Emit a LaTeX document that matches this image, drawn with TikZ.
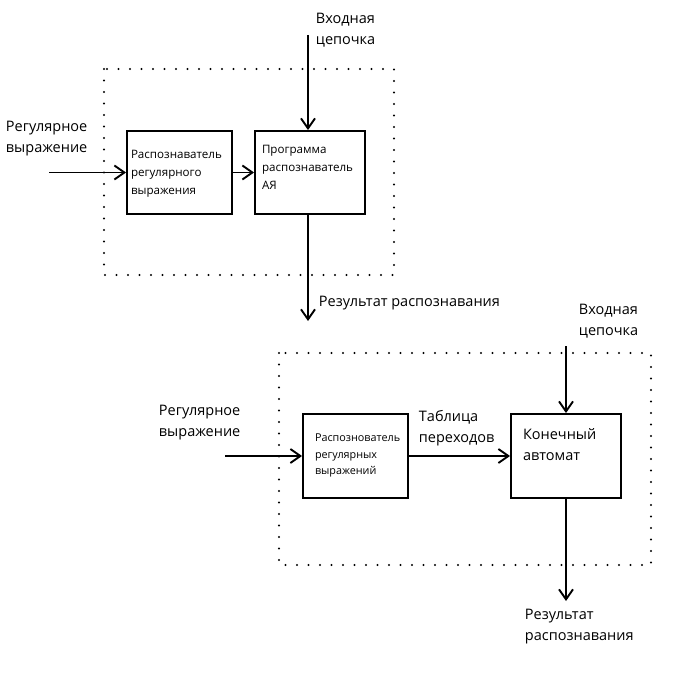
\documentclass[tikz,border=0pt]{standalone}
\usepackage{fontspec}
\setmainfont{Open Sans}
\usetikzlibrary{arrows.meta}
\usetikzlibrary{positioning}

\begin{document}
\begin{tikzpicture}[x=1pt,y=-1pt,>={Straight Barb[length=10pt,width=14pt]},
                    line width=1.9pt,
                    block/.style={draw,rectangle,inner sep=0pt},
                    intext/.style={anchor=north west,inner sep=0pt,align=left,
                                   font=\fontsize{11.6}{18}\selectfont},
                    lbl/.style={anchor=north west,inner sep=0pt,align=left,
                                font=\fontsize{14.5}{21}\selectfont},
                    dotbox/.style={line width=2.3pt,dash pattern=on 0pt off 11.5pt,
                                   line cap=round}]
  \useasboundingbox (0,0) rectangle (700,700);

  \draw[dotbox] (104,69) rectangle (394,275);
  \draw[dotbox] (279,353) rectangle (651,565);

  \node[block,minimum width=105pt,minimum height=83pt] (rec1) at (179.5,172.5) {};
  \node[block,minimum width=110pt,minimum height=83pt] (prog1) at (310,172.5) {};
  \node[block,minimum width=105pt,minimum height=84pt] (rec2) at (355.5,456) {};
  \node[block,minimum width=110pt,minimum height=84pt] (fsm) at (566,456) {};

  \node[intext] (rec1txt) at ([shift={(4,19)}]rec1.north west)
        {Распознаватель\\регулярного\\выражения};
  \node[intext] (prog1txt) at ([shift={(7,14)}]prog1.north west)
        {Программа\\распознаватель\\АЯ};
  \node[intext,font=\fontsize{10.8}{16.5}\selectfont] (rec2txt) at ([shift={(12,20)}]rec2.north west)
        {Распознователь\\регулярных\\выражений};
  \node[lbl] (fsmtxt) at ([shift={(12,14.5)}]fsm.north west) {Конечный\\автомат};

  \node[lbl] (regex1) at (5,120.5) {Регулярное\\выражение};
  \node[lbl] (input1) at (315,12.5) {Входная\\цепочка};
  \node[lbl] (result1) at (318,295.5) {Результат распознавания};
  \node[lbl] (regex2) at (158,404.5) {Регулярное\\выражение};
  \node[lbl] (table) at (418,409.5) {Таблица\\переходов};
  \node[lbl] (input2) at (578,303.5) {Входная\\цепочка};
  \node[lbl] (result2) at (524,608.5) {Результат\\распознавания};

  \coordinate (in1) at (49,172.5);
  \coordinate (src1) at (308,35);
  \coordinate (out1) at (308,321);
  \coordinate (in2) at (225,456);
  \coordinate (src2) at (566,346);
  \coordinate (out2) at (566,601);

  \path[->]
    (in1) edge (rec1)
    (rec1) edge (prog1)
    (src1) edge (src1 |- prog1.north)
    (out1 |- prog1.south) edge (out1)
    (in2) edge (rec2)
    (rec2) edge (fsm)
    (src2) edge (fsm)
    (fsm) edge (out2);
\end{tikzpicture}
\end{document}
